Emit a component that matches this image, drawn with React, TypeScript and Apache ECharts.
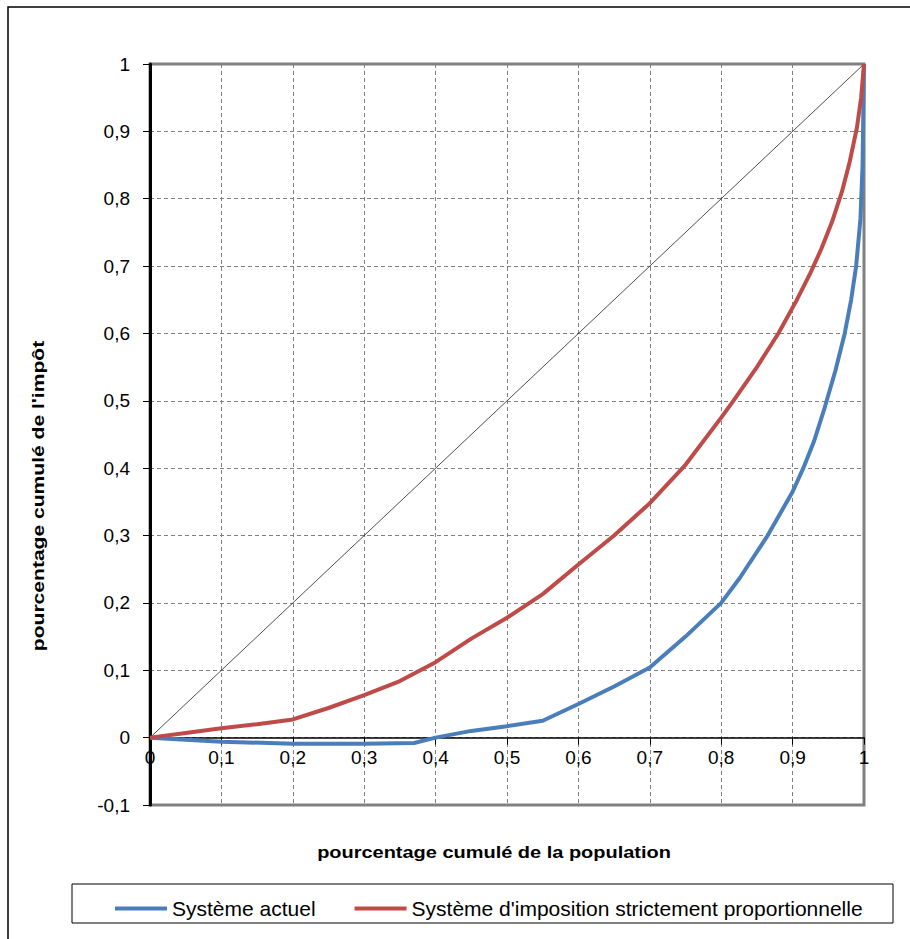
import React, { useEffect, useRef } from "react";
import * as echarts from "echarts";

const xTicks = [0, 0.1, 0.2, 0.3, 0.4, 0.5, 0.6, 0.7, 0.8, 0.9, 1];
const yTicks = [-0.1, 0, 0.1, 0.2, 0.3, 0.4, 0.5, 0.6, 0.7, 0.8, 0.9, 1];

const seriesNames = ["Système actuel", "Système d'imposition strictement proportionnelle"];

const actuelX = [0, 0.1, 0.2, 0.3, 0.37, 0.4, 0.45, 0.5, 0.55, 0.6, 0.65, 0.7, 0.75, 0.8, 0.826, 0.865, 0.9, 0.915, 0.93, 0.945, 0.96, 0.973, 0.982, 0.989, 0.995, 0.998, 1];
const actuelY = [0, -0.006, -0.009, -0.009, -0.008, 0, 0.01, 0.017, 0.025, 0.05, 0.076, 0.104, 0.15, 0.2, 0.237, 0.3, 0.365, 0.4, 0.44, 0.49, 0.545, 0.6, 0.65, 0.7, 0.77, 0.85, 1];

const propX = [0, 0.05, 0.1, 0.15, 0.2, 0.25, 0.3, 0.35, 0.4, 0.45, 0.5, 0.55, 0.6, 0.65, 0.7, 0.75, 0.8, 0.817, 0.85, 0.88, 0.905, 0.925, 0.94, 0.955, 0.969, 0.98, 0.99, 0.996, 1];
const propY = [0, 0.007, 0.014, 0.02, 0.027, 0.044, 0.063, 0.084, 0.112, 0.147, 0.178, 0.213, 0.257, 0.3, 0.348, 0.405, 0.475, 0.5, 0.55, 0.6, 0.648, 0.69, 0.725, 0.765, 0.81, 0.855, 0.905, 0.95, 1];

const egaliteX = [0, 1];
const egaliteY = [0, 1];

const xTitle = "pourcentage cumulé de la population";
const yTitle = "pourcentage cumulé de l'impôt";

const FONT = "'Liberation Sans', Arial, sans-serif";

const fmt = (v: number) => {
  const r = Math.round(v * 10) / 10;
  return String(r).replace(".", ",");
};

const zip = (xs: number[], ys: number[]) => xs.map((x, i) => [x, ys[i]]);

export default function App() {
  const ref = useRef<HTMLDivElement>(null);
  useEffect(() => {
    if (!ref.current) return;
    const chart = echarts.init(ref.current, null, { renderer: "svg" });
    const gridLine = { show: true, lineStyle: { color: "#808080", width: 1, type: [4, 3] as any } };
    const yMin = yTicks[0];
    const yMax = yTicks[yTicks.length - 1];
    const plotH = 741;
    const zeroOffset = -plotH * (0 - yMin) / (yMax - yMin);
    chart.setOption({
      animation: false,
      textStyle: { fontFamily: FONT },
      grid: {
        left: 150,
        top: 64,
        width: 714,
        height: plotH,
        show: true,
        borderColor: "#808080",
        borderWidth: 3,
        backgroundColor: "transparent",
        containLabel: false,
      },
      xAxis: {
        type: "value",
        min: xTicks[0],
        max: xTicks[xTicks.length - 1],
        interval: 0.1,
        position: "bottom",
        offset: zeroOffset,
        axisLine: { show: true, onZero: false, lineStyle: { color: "#000", width: 1.5 } },
        axisTick: { show: true, length: 7, lineStyle: { color: "#000", width: 1 } },
        axisLabel: {
          fontSize: 19,
          color: "#000",
          margin: 10,
          fontFamily: FONT,
          showMinLabel: true,
          showMaxLabel: true,
          formatter: (v: number) => fmt(v),
        },
        splitLine: gridLine,
      },
      yAxis: {
        type: "value",
        min: yMin,
        max: yMax,
        interval: 0.1,
        axisLine: { show: true, onZero: false, lineStyle: { color: "#000", width: 3 } },
        axisTick: { show: true, length: 7, lineStyle: { color: "#000", width: 1 } },
        axisLabel: {
          fontSize: 19,
          color: "#000",
          margin: 20,
          fontFamily: FONT,
          showMinLabel: true,
          showMaxLabel: true,
          formatter: (v: number) => fmt(v),
        },
        splitLine: gridLine,
      },
      legend: {
        data: seriesNames,
        left: 110,
        top: 893,
        icon: "rect",
        itemWidth: 52,
        itemHeight: 4,
        itemGap: 39,
        itemTextGap: 6,
        textStyle: { fontSize: 21, color: "#000", fontFamily: FONT },
      },
      graphic: [
        {
          type: "rect",
          shape: { x: 8, y: 7, width: 920, height: 950 },
          style: { fill: "none", stroke: "#000", lineWidth: 1.5 },
          silent: true,
        },
        {
          type: "rect",
          shape: { x: 72, y: 884, width: 821, height: 39 },
          style: { fill: "none", stroke: "#000", lineWidth: 1 },
          silent: true,
        },
        {
          type: "text",
          x: 494,
          y: 852,
          scaleX: 1.175,
          style: {
            text: xTitle,
            fontSize: 17,
            fontWeight: "bold",
            fontFamily: FONT,
            fill: "#000",
            textAlign: "center",
            textVerticalAlign: "middle",
          },
        },
        {
          type: "text",
          x: 38,
          y: 496,
          rotation: Math.PI / 2,
          scaleX: 1.24,
          style: {
            text: yTitle,
            fontSize: 17,
            fontWeight: "bold",
            fontFamily: FONT,
            fill: "#000",
            textAlign: "center",
            textVerticalAlign: "middle",
          },
        },
      ],
      series: [
        {
          name: "égalité",
          type: "line",
          data: zip(egaliteX, egaliteY),
          symbol: "none",
          silent: true,
          lineStyle: { color: "#222", width: 0.8 },
          z: 1,
        },
        {
          name: seriesNames[0],
          type: "line",
          data: zip(actuelX, actuelY),
          symbol: "none",
          color: "#4a7ebb",
          lineStyle: { color: "#4a7ebb", width: 4 },
          z: 2,
        },
        {
          name: seriesNames[1],
          type: "line",
          data: zip(propX, propY),
          symbol: "none",
          color: "#be4b48",
          lineStyle: { color: "#be4b48", width: 4 },
          z: 3,
        },
      ],
    });
    return () => chart.dispose();
  }, []);
  return (
    <div
      ref={ref}
      style={{ position: "fixed", left: 0, top: 0, width: 910, height: 939, background: "#fff" }}
    />
  );
}
